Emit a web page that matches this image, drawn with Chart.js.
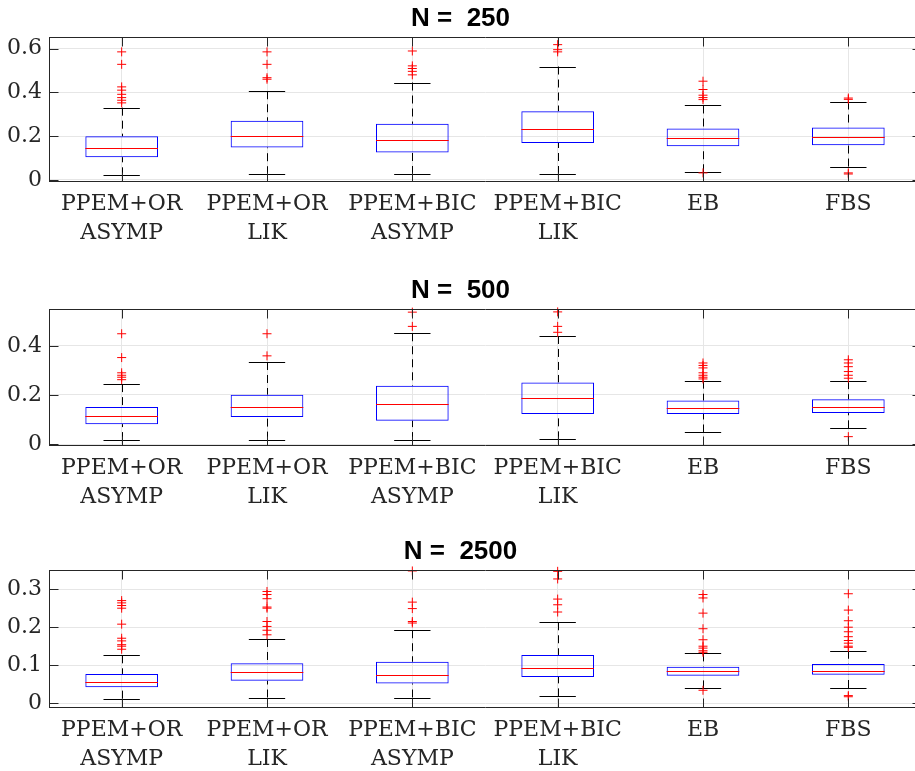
<!DOCTYPE html>
<html>
<head>
<meta charset="utf-8">
<script src="https://cdn.jsdelivr.net/npm/chart.js@4.4.1/dist/chart.umd.min.js"></script>
<style>
  html, body { margin: 0; padding: 0; background: #fff; }
  body { width: 915px; height: 771px; overflow: hidden; position: relative; }
  canvas { position: absolute; left: 0; }
</style>
</head>
<body>
<canvas id="box-250" width="936" height="245" style="top:0px"></canvas>
<canvas id="box-500" width="936" height="237" style="top:272px"></canvas>
<canvas id="box-2500" width="936" height="238" style="top:533px"></canvas>
<script>
const methodLabels = [['PPEM+OR', 'ASYMP'], ['PPEM+OR', 'LIK'], ['PPEM+BIC', 'ASYMP'], ['PPEM+BIC', 'LIK'], ['EB'], ['FBS']];

// N = 250
const lo250 = [0.021, 0.026, 0.027, 0.027, 0.035, 0.061];
const q1_250 = [0.104, 0.148, 0.125, 0.169, 0.154, 0.158];
const med250 = [0.146, 0.199, 0.184, 0.231, 0.192, 0.195];
const q3_250 = [0.199, 0.270, 0.256, 0.314, 0.235, 0.239];
const hi250 = [0.330, 0.405, 0.445, 0.518, 0.340, 0.358];
const out250 = [
  [0.585, 0.528, 0.425, 0.410, 0.391, 0.376, 0.364, 0.352],
  [0.585, 0.528, 0.467, 0.460],
  [0.589, 0.521, 0.509, 0.496, 0.480],
  [0.618, 0.595, 0.585],
  [0.451, 0.413, 0.387, 0.376, 0.367, 0.032],
  [0.374, 0.368, 0.032, 0.027]
];
const yTicks250 = [0, 0.2, 0.4, 0.6];
const yRange250 = [-0.005, 0.652];

// N = 500
const lo500 = [0.016, 0.018, 0.016, 0.019, 0.047, 0.064];
const q1_500 = [0.081, 0.110, 0.095, 0.122, 0.122, 0.126];
const med500 = [0.114, 0.149, 0.163, 0.189, 0.145, 0.149];
const q3_500 = [0.151, 0.201, 0.237, 0.251, 0.177, 0.182];
const hi500 = [0.244, 0.334, 0.451, 0.440, 0.258, 0.256];
const out500 = [
  [0.449, 0.352, 0.290, 0.280, 0.272, 0.262],
  [0.449, 0.359],
  [0.537, 0.479],
  [0.538, 0.479, 0.455],
  [0.330, 0.320, 0.310, 0.290, 0.280, 0.272, 0.265],
  [0.343, 0.330, 0.315, 0.295, 0.280, 0.268, 0.030]
];
const yTicks500 = [0, 0.2, 0.4];
const yRange500 = [-0.004, 0.549];

// N = 2500
const lo2500 = [0.012, 0.015, 0.015, 0.018, 0.039, 0.040];
const q1_2500 = [0.042, 0.059, 0.052, 0.069, 0.072, 0.075];
const med2500 = [0.057, 0.081, 0.075, 0.093, 0.084, 0.086];
const q3_2500 = [0.077, 0.105, 0.109, 0.127, 0.096, 0.103];
const hi2500 = [0.126, 0.169, 0.192, 0.213, 0.131, 0.138];
const out2500 = [
  [0.270, 0.264, 0.257, 0.250, 0.208, 0.171, 0.164, 0.154, 0.150, 0.142],
  [0.294, 0.286, 0.275, 0.253, 0.250, 0.215, 0.202, 0.192, 0.180],
  [0.348, 0.266, 0.249, 0.215, 0.211],
  [0.347, 0.327, 0.274, 0.259, 0.240],
  [0.286, 0.277, 0.237, 0.196, 0.167, 0.150, 0.145, 0.138, 0.134, 0.034],
  [0.288, 0.245, 0.217, 0.200, 0.188, 0.175, 0.165, 0.158, 0.150, 0.147, 0.020, 0.017]
];
const yTicks2500 = [0, 0.1, 0.2, 0.3];
const yRange2500 = [-0.01, 0.35];

const axisColor = '#262626';
const gridColor = '#e6e6e6';
const labelFont = { family: 'DejaVu Serif', size: 22, lineHeight: 1.3 };
const tickLen = 9;

const crisp = v => Math.round(v) + 0.5;

// whiskers, caps and medians, plus the top/right frame and inward ticks
function boxPartsPlugin(lo, q1, med, q3, hi) {
  return {
    id: 'boxParts',
    beforeDatasetsDraw(chart) {
      const { ctx, scales: { y } } = chart;
      const bars = chart.getDatasetMeta(0).data;
      ctx.save();
      ctx.strokeStyle = '#000';
      ctx.lineWidth = 1;
      bars.forEach((bar, i) => {
        const px = crisp(bar.x);
        const half = bar.width / 4;
        ctx.setLineDash([8, 5]);
        ctx.beginPath();
        ctx.moveTo(px, y.getPixelForValue(hi[i]));
        ctx.lineTo(px, y.getPixelForValue(q3[i]));
        ctx.moveTo(px, y.getPixelForValue(lo[i]));
        ctx.lineTo(px, y.getPixelForValue(q1[i]));
        ctx.stroke();
        ctx.setLineDash([]);
        ctx.beginPath();
        [lo[i], hi[i]].forEach(v => {
          const py = crisp(y.getPixelForValue(v));
          ctx.moveTo(bar.x - half, py);
          ctx.lineTo(bar.x + half, py);
        });
        ctx.stroke();
      });
      ctx.restore();
    },
    afterDatasetsDraw(chart) {
      const { ctx, chartArea: a, scales: { x, y } } = chart;
      const bars = chart.getDatasetMeta(0).data;
      ctx.save();
      ctx.strokeStyle = '#ff0000';
      ctx.lineWidth = 1;
      ctx.beginPath();
      bars.forEach((bar, i) => {
        const py = crisp(y.getPixelForValue(med[i]));
        ctx.moveTo(bar.x - bar.width / 2, py);
        ctx.lineTo(bar.x + bar.width / 2, py);
      });
      ctx.stroke();

      ctx.strokeStyle = axisColor;
      ctx.beginPath();
      const top = crisp(a.top), bottom = crisp(a.bottom);
      const left = crisp(a.left), right = crisp(a.right);
      ctx.moveTo(left, top);
      ctx.lineTo(right, top);
      ctx.lineTo(right, bottom);
      x.ticks.forEach(t => {
        const px = crisp(x.getPixelForValue(t.value));
        ctx.moveTo(px, top);
        ctx.lineTo(px, top + tickLen);
        ctx.moveTo(px, bottom);
        ctx.lineTo(px, bottom - tickLen);
      });
      y.ticks.forEach(t => {
        const py = crisp(y.getPixelForValue(t.value));
        ctx.moveTo(left, py);
        ctx.lineTo(left + tickLen, py);
        ctx.moveTo(right, py);
        ctx.lineTo(right - tickLen, py);
      });
      ctx.stroke();
      ctx.restore();
    }
  };
}

function makeBoxChart(id, n, lo, q1, med, q3, hi, outliers, yTicks, yRange) {
  new Chart(document.getElementById(id), {
    type: 'bar',
    data: {
      datasets: [{
        label: 'box',
        data: q1.map((v, i) => ({ x: i + 1, y: [v, q3[i]] })),
        backgroundColor: 'rgba(0,0,0,0)',
        borderColor: '#0000ff',
        borderWidth: 1,
        borderSkipped: false,
        barPercentage: 0.5,
        categoryPercentage: 1,
        order: 2
      }, {
        type: 'scatter',
        label: 'outliers',
        data: outliers.flatMap((vals, i) => vals.map(v => ({ x: i + 1, y: v }))),
        pointStyle: 'cross',
        pointRadius: 4.5,
        borderColor: '#ff0000',
        borderWidth: 1,
        clip: false,
        order: 1
      }]
    },
    options: {
      responsive: false,
      animation: false,
      events: [],
      layout: { padding: { left: 0, right: 15, top: 0, bottom: 0 } },
      plugins: {
        legend: { display: false },
        tooltip: { enabled: false },
        title: {
          display: true,
          text: 'N =  ' + n,
          color: '#000',
          font: { family: 'Liberation Sans', size: 26, weight: 'bold' },
          padding: { top: 3, bottom: 3 }
        }
      },
      scales: {
        x: {
          type: 'linear',
          min: 0.5,
          max: 6.5,
          offset: false,
          afterBuildTicks: s => { s.ticks = methodLabels.map((_, i) => ({ value: i + 1 })); },
          afterFit: s => { s.height = 64; },
          grid: { color: gridColor, drawTicks: false, offset: false },
          border: { color: axisColor },
          ticks: {
            padding: 9,
            color: axisColor,
            font: labelFont,
            autoSkip: false,
            maxRotation: 0,
            callback: v => methodLabels[v - 1]
          }
        },
        y: {
          min: yRange[0],
          max: yRange[1],
          afterBuildTicks: s => { s.ticks = yTicks.map(v => ({ value: v })); },
          afterFit: s => { s.width = 49; },
          grid: { color: gridColor, drawTicks: false },
          border: { color: axisColor },
          ticks: { padding: 7, color: axisColor, font: labelFont, callback: v => String(v) }
        }
      }
    },
    plugins: [boxPartsPlugin(lo, q1, med, q3, hi)]
  });
}

makeBoxChart('box-250', 250, lo250, q1_250, med250, q3_250, hi250, out250, yTicks250, yRange250);
makeBoxChart('box-500', 500, lo500, q1_500, med500, q3_500, hi500, out500, yTicks500, yRange500);
makeBoxChart('box-2500', 2500, lo2500, q1_2500, med2500, q3_2500, hi2500, out2500, yTicks2500, yRange2500);
</script>
</body>
</html>
